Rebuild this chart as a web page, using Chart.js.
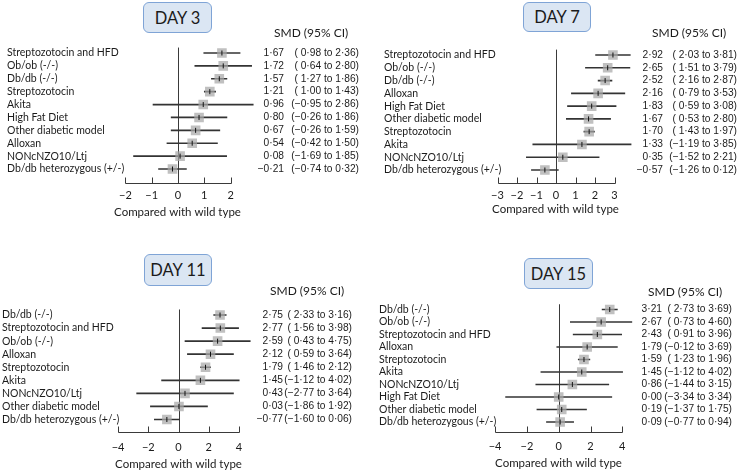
<!DOCTYPE html>
<html>
<head>
<meta charset="utf-8">
<script src="https://cdn.jsdelivr.net/npm/chart.js@4.4.1/dist/chart.umd.min.js"></script>
<style>
  body { margin: 0; background: #fff; }
  #hoja { position: relative; width: 740px; height: 471px; overflow: hidden; font-family: Lato, sans-serif; color: #1b1b1b; }
  .panel { position: absolute; }
  .dia { position: absolute; box-sizing: border-box; border: 1.5px solid #7fa4d6; background: #dbe6f3; border-radius: 6px;
         display: flex; align-items: center; justify-content: center; font-size: 16.5px; }
  .smd { position: absolute; font-size: 12px; line-height: 14px; white-space: nowrap; }
</style>
</head>
<body>
<div id="hoja">
  <canvas id="g3" class="panel" width="370" height="240" style="left:0;top:0"></canvas>
  <canvas id="g7" class="panel" width="370" height="240" style="left:370px;top:0"></canvas>
  <canvas id="g11" class="panel" width="370" height="231" style="left:0;top:240px"></canvas>
  <canvas id="g15" class="panel" width="370" height="231" style="left:370px;top:240px"></canvas>

  <div class="dia" style="left:143px;top:2px;width:69px;height:31px">DAY 3</div>
  <div class="dia" style="left:523px;top:2px;width:68px;height:30px">DAY 7</div>
  <div class="dia" style="left:144px;top:254px;width:68px;height:32px">DAY 11</div>
  <div class="dia" style="left:524px;top:258px;width:69px;height:31px">DAY 15</div>

  <div class="smd" style="left:274px;top:26px">SMD (95% CI)</div>
  <div class="smd" style="left:652px;top:26px">SMD (95% CI)</div>
  <div class="smd" style="left:270px;top:284px">SMD (95% CI)</div>
  <div class="smd" style="left:648px;top:285px">SMD (95% CI)</div>
</div>

<script>
// --- DATOS ---
const tituloEje = 'Compared with wild type';

// Día 3
const day3Cats = ['Streptozotocin and HFD', 'Ob/ob (-/-)', 'Db/db (-/-)', 'Streptozotocin', 'Akita', 'High Fat Diet',
                  'Other diabetic model', 'Alloxan', 'NONcNZO10/Ltj', 'Db/db heterozygous (+/-)'];
const day3Smd = [1.67, 1.72, 1.57, 1.21, 0.96, 0.80, 0.67, 0.54, 0.08, -0.21];
const day3Lo  = [0.98, 0.64, 1.27, 1.00, -0.95, -0.26, -0.26, -0.42, -1.69, -0.74];
const day3Hi  = [2.36, 2.80, 1.86, 1.43, 2.86, 1.86, 1.59, 1.50, 1.85, 0.32];
const day3Ticks = [-2, -1, 0, 1, 2];

// Día 7
const day7Cats = ['Streptozotocin and HFD', 'Ob/ob (-/-)', 'Db/db (-/-)', 'Alloxan', 'High Fat Diet', 'Other diabetic model',
                  'Streptozotocin', 'Akita', 'NONcNZO10/Ltj', 'Db/db heterozygous (+/-)'];
const day7Smd = [2.92, 2.65, 2.52, 2.16, 1.83, 1.67, 1.70, 1.33, 0.35, -0.57];
const day7Lo  = [2.03, 1.51, 2.16, 0.79, 0.59, 0.53, 1.43, -1.19, -1.52, -1.26];
const day7Hi  = [3.81, 3.79, 2.87, 3.53, 3.08, 2.80, 1.97, 3.85, 2.21, 0.12];
const day7Ticks = [-3, -2, -1, 0, 1, 2, 3];

// Día 11
const day11Cats = ['Db/db (-/-)', 'Streptozotocin and HFD', 'Ob/ob (-/-)', 'Alloxan', 'Streptozotocin', 'Akita',
                   'NONcNZO10/Ltj', 'Other diabetic model', 'Db/db heterozygous (+/-)'];
const day11Smd = [2.75, 2.77, 2.59, 2.12, 1.79, 1.45, 0.43, 0.03, -0.77];
const day11Lo  = [2.33, 1.56, 0.43, 0.59, 1.46, -1.12, -2.77, -1.86, -1.60];
const day11Hi  = [3.16, 3.98, 4.75, 3.64, 2.12, 4.02, 3.64, 1.92, 0.06];
const day11Ticks = [-4, -2, 0, 2, 4];

// Día 15
const day15Cats = ['Db/db (-/-)', 'Ob/ob (-/-)', 'Streptozotocin and HFD', 'Alloxan', 'Streptozotocin', 'Akita',
                   'NONcNZO10/Ltj', 'High Fat Diet', 'Other diabetic model', 'Db/db heterozygous (+/-)'];
const day15Smd = [3.21, 2.67, 2.43, 1.79, 1.59, 1.45, 0.86, 0.00, 0.19, 0.09];
const day15Lo  = [2.73, 0.73, 0.91, -0.12, 1.23, -1.12, -1.44, -3.34, -1.37, -0.77];
const day15Hi  = [3.69, 4.60, 3.96, 3.69, 1.96, 4.02, 3.15, 3.34, 1.75, 0.94];
const day15Ticks = [-4, -2, 0, 2, 4];

// --- FORMATO ESTILO LANCET (punto medio y signo menos) ---
function fmt(v) {
    return (v < 0 ? '\u2212' : '') + Math.abs(v).toFixed(2).replace('.', '\u00b7');
}
function fmtIC(lo, hi) {
    return '(' + (lo >= 0 ? ' ' : '') + fmt(lo) + ' to ' + fmt(hi) + ')';
}

// --- PLUGIN: línea del cero, eje con marcas hacia arriba y título del eje ---
const ejeForest = {
    id: 'ejeForest',
    beforeDatasetsDraw(chart, args, opts) {
        const { ctx, chartArea, scales: { x } } = chart;
        const lay = opts.lay, ticks = opts.ticks;
        const x0 = Math.round(x.getPixelForValue(0)) + 0.5;
        const ya = Math.round(lay.axisY) + 0.5;
        ctx.save();
        ctx.strokeStyle = '#3a3a3a';
        ctx.lineWidth = 1;
        ctx.beginPath();
        ctx.moveTo(x0, chartArea.top + 1);
        ctx.lineTo(x0, ya);
        const xa = Math.round(x.getPixelForValue(ticks[0])) + 0.5;
        const xb = Math.round(x.getPixelForValue(ticks[ticks.length - 1])) + 0.5;
        ctx.moveTo(xa, ya);
        ctx.lineTo(xb, ya);
        ticks.forEach(v => {
            const px = Math.round(x.getPixelForValue(v)) + 0.5;
            ctx.moveTo(px, ya);
            ctx.lineTo(px, ya - 6);
        });
        ctx.stroke();
        ctx.fillStyle = '#1b1b1b';
        ctx.font = '11.5px Lato';
        ctx.textAlign = 'center';
        ctx.textBaseline = 'middle';
        ctx.fillText(tituloEje, x0 - 1, lay.titleY);
        ctx.restore();
    }
};

// --- CONSTRUCTOR DE CADA PANEL ---
function crearForest(idCanvas, cats, smd, lo, hi, ticks, lay) {
    const n = cats.length;
    const banda = (lay.lastRow - lay.firstRow) / (n - 1);
    const top = lay.firstRow - banda / 2;
    const bottom = lay.lastRow + banda / 2;
    const chartLeft = lay.labelLeft + 118;   // ancho reservado para las etiquetas
    const xmin = (chartLeft - lay.zeroX) / lay.ppu;
    const xmax = (lay.chartRight - lay.zeroX) / lay.ppu;
    const fuenteEtiq = { family: 'Lato', size: 10.5 };
    const fuenteNum = { family: 'Liberation Sans', size: 10.2 };
    const colorTexto = '#1b1b1b';

    new Chart(document.getElementById(idCanvas), {
        type: 'bar',
        data: {
            labels: cats,
            datasets: [
                {   // intervalos de confianza
                    type: 'bar',
                    data: lo.map((l, i) => [l, hi[i]]),
                    backgroundColor: '#333',
                    borderWidth: 0,
                    barThickness: 1,
                    order: 3
                },
                {   // cuadrados grises
                    type: 'line',
                    indexAxis: 'y',
                    data: smd,
                    showLine: false,
                    pointStyle: 'rect',
                    pointRadius: 6.8,
                    pointBorderWidth: 0,
                    pointBackgroundColor: 'rgba(168,168,168,0.72)',
                    order: 2
                },
                {   // marca de la estimación puntual
                    type: 'line',
                    indexAxis: 'y',
                    data: smd,
                    showLine: false,
                    pointStyle: 'line',
                    pointRotation: 90,
                    pointRadius: 2.5,
                    pointBorderWidth: 1,
                    pointBorderColor: '#111',
                    order: 1
                }
            ]
        },
        options: {
            indexAxis: 'y',
            responsive: false,
            animation: false,
            events: [],
            layout: { padding: { left: lay.labelLeft, right: 370 - lay.ciRight, top: top, bottom: 0 } },
            plugins: {
                legend: { display: false },
                tooltip: { enabled: false },
                ejeForest: { lay: lay, ticks: ticks }
            },
            scales: {
                x: {
                    type: 'linear',
                    min: xmin,
                    max: xmax,
                    grid: { display: false, drawTicks: false },
                    border: { display: false },
                    afterBuildTicks: s => { s.ticks = ticks.map(v => ({ value: v })); },
                    afterFit: s => { s.height = lay.canvasH - bottom; },
                    ticks: {
                        autoSkip: false,
                        maxRotation: 0,
                        padding: lay.tickY - bottom - 6.6,
                        color: colorTexto,
                        font: { family: 'Lato', size: 11 },
                        callback: v => (v < 0 ? '\u2212' + Math.abs(v) : String(v))
                    }
                },
                y: {
                    type: 'category',
                    offset: true,
                    grid: { display: false, drawTicks: false },
                    border: { display: false },
                    afterFit: s => { s.width = chartLeft - lay.labelLeft; },
                    ticks: { crossAlign: 'far', padding: 0, autoSkip: false, color: colorTexto, font: fuenteEtiq }
                },
                valores: {
                    type: 'category',
                    position: 'right',
                    weight: 1,
                    labels: smd.map(fmt),
                    offset: true,
                    grid: { display: false, drawTicks: false },
                    border: { display: false },
                    afterFit: s => { s.width = lay.valRight - lay.chartRight; },
                    ticks: { crossAlign: 'far', padding: 0, autoSkip: false, color: colorTexto, font: fuenteNum }
                },
                intervalos: {
                    type: 'category',
                    position: 'right',
                    weight: 2,
                    labels: lo.map((l, i) => fmtIC(l, hi[i])),
                    offset: true,
                    grid: { display: false, drawTicks: false },
                    border: { display: false },
                    afterFit: s => { s.width = lay.ciRight - lay.valRight; },
                    ticks: { crossAlign: 'far', padding: 0, autoSkip: false, color: colorTexto, font: fuenteNum }
                }
            }
        },
        plugins: [ejeForest]
    });
}

// --- DISPOSICIÓN DE LOS CUATRO PANELES (coordenadas locales del lienzo) ---
crearForest('g3', day3Cats, day3Smd, day3Lo, day3Hi, day3Ticks,
    { labelLeft: 7, zeroX: 178, ppu: 26.3, chartRight: 256, valRight: 284, ciRight: 359,
      firstRow: 53, lastRow: 169, axisY: 183, tickY: 195, titleY: 212, canvasH: 240 });

crearForest('g7', day7Cats, day7Smd, day7Lo, day7Hi, day7Ticks,
    { labelLeft: 14, zeroX: 186, ppu: 19.5, chartRight: 265, valRight: 293, ciRight: 367,
      firstRow: 55, lastRow: 170, axisY: 183, tickY: 195, titleY: 209, canvasH: 240 });

crearForest('g11', day11Cats, day11Smd, day11Lo, day11Hi, day11Ticks,
    { labelLeft: 2, zeroX: 178.5, ppu: 15.1, chartRight: 254, valRight: 283, ciRight: 352,
      firstRow: 75, lastRow: 179.5, axisY: 192.3, tickY: 207.3, titleY: 224, canvasH: 231 });

crearForest('g15', day15Cats, day15Smd, day15Lo, day15Hi, day15Ticks,
    { labelLeft: 9, zeroX: 188.7, ppu: 15.9, chartRight: 264, valRight: 292, ciRight: 362,
      firstRow: 69.5, lastRow: 182, axisY: 191.5, tickY: 206, titleY: 223, canvasH: 231 });
</script>
</body>
</html>
